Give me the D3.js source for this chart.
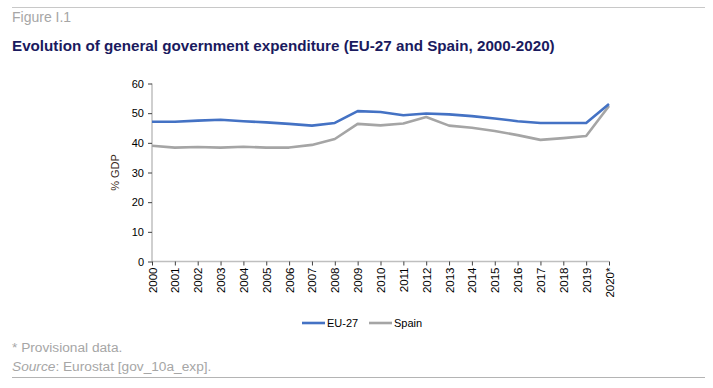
<!DOCTYPE html>
<html>
<head>
<meta charset="utf-8">
<script src="https://cdn.jsdelivr.net/npm/d3@7"></script>
<style>
  body { margin: 0; background: #fff; }
  svg text { font-family: "Liberation Sans", Arial, sans-serif; }
</style>
</head>
<body>
<div id="chart"></div>
<script>
// years on the x axis (last one provisional)
var years = ["2000","2001","2002","2003","2004","2005","2006","2007","2008","2009","2010",
             "2011","2012","2013","2014","2015","2016","2017","2018","2019","2020*"];
// % of GDP
var eu27  = [47.1,47.1,47.5,47.8,47.3,46.9,46.4,45.8,46.7,50.7,50.4,
             49.3,49.9,49.6,49.0,48.2,47.3,46.7,46.7,46.7,53.1];
var spain = [39.0,38.4,38.6,38.4,38.7,38.4,38.4,39.3,41.3,46.4,45.9,
             46.5,48.7,45.8,45.1,44.0,42.6,41.0,41.6,42.3,52.4];
var yTicks = [0,10,20,30,40,50,60];
var seriesNames = ["EU-27","Spain"];
var seriesColors = ["#4472c4","#a5a5a5"];

var W = 713, H = 388;
var svg = d3.select("#chart").append("svg")
  .attr("width", W).attr("height", H);

// header / footer rules
svg.append("line").attr("x1",12).attr("x2",705).attr("y1",7.5).attr("y2",7.5)
  .attr("stroke","#c8c8c8").attr("stroke-width",1);
svg.append("line").attr("x1",12).attr("x2",705).attr("y1",377.5).attr("y2",377.5)
  .attr("stroke","#b4b4b4").attr("stroke-width",1);

svg.append("text").attr("x",12).attr("y",22).attr("fill","#a6a6a6")
  .style("font-size","14px").text("Figure I.1");
svg.append("text").attr("x",12).attr("y",51).attr("fill","#1a1a5e")
  .style("font-size","15.2px").style("font-weight","bold")
  .text("Evolution of general government expenditure (EU-27 and Spain, 2000-2020)");

var x = d3.scalePoint().domain(years).range([152, 609]);
var y = d3.scaleLinear().domain([0,60]).range([261.5, 83.5]);

// y axis
var yAxis = svg.append("g").attr("transform","translate(152,0)")
  .call(d3.axisLeft(y).tickValues(yTicks).tickSize(4).tickPadding(4));
yAxis.select(".domain").attr("stroke","#bfbfbf").attr("stroke-width",1.5)
  .attr("d","M0," + y(60) + "V" + y(0));
yAxis.selectAll(".tick line").attr("stroke","#404040");
yAxis.selectAll(".tick text").attr("fill","#000").style("font-size","11px")
  .style("font-family","'Liberation Sans', Arial, sans-serif");

// x axis
var xAxis = svg.append("g").attr("transform","translate(0," + y(0) + ")")
  .call(d3.axisBottom(x).tickSize(4).tickPadding(3));
xAxis.select(".domain").attr("stroke","#bfbfbf").attr("stroke-width",1.5)
  .attr("d","M152,0H609");
xAxis.selectAll(".tick line").attr("stroke","#404040");
xAxis.selectAll(".tick text").attr("fill","#000").style("font-size","11.5px")
  .style("font-family","'Liberation Sans', Arial, sans-serif")
  .attr("text-anchor","end").attr("dy","0.35em")
  .attr("transform","translate(0,6) rotate(-90)").attr("x",0).attr("y",0);

svg.append("text")
  .attr("transform","translate(119," + y(30) + ") rotate(-90)")
  .attr("text-anchor","middle").attr("fill","#3a2a1a")
  .style("font-size","11px").text("% GDP");

// lines (Spain first so EU-27 sits on top)
var lineGen = d3.line()
  .x(function(d, i) { return x(years[i]); })
  .y(function(d) { return y(d); });

[spain, eu27].forEach(function(s, k) {
  svg.append("path").datum(s)
    .attr("d", lineGen)
    .attr("fill","none")
    .attr("stroke", seriesColors[1 - k])
    .attr("stroke-width", 2.6)
    .attr("stroke-linejoin","round");
});

// legend
var leg = svg.append("g");
var legX = [302, 369];
seriesNames.forEach(function(n, i) {
  leg.append("line").attr("x1", legX[i]).attr("x2", legX[i] + 23)
    .attr("y1", 323).attr("y2", 323)
    .attr("stroke", seriesColors[i]).attr("stroke-width", 2.6);
  leg.append("text").attr("x", legX[i] + 25).attr("y", 327)
    .attr("fill","#000").style("font-size","11px").text(n);
});

// notes
svg.append("text").attr("x",12).attr("y",352).attr("fill","#a6a6a6")
  .style("font-size","13.7px").text("* Provisional data.");
var src = svg.append("text").attr("x",12).attr("y",371).attr("fill","#a6a6a6")
  .style("font-size","13.7px");
src.append("tspan").style("font-style","italic").text("Source");
src.append("tspan").text(": Eurostat [gov_10a_exp].");
</script>
</body>
</html>
